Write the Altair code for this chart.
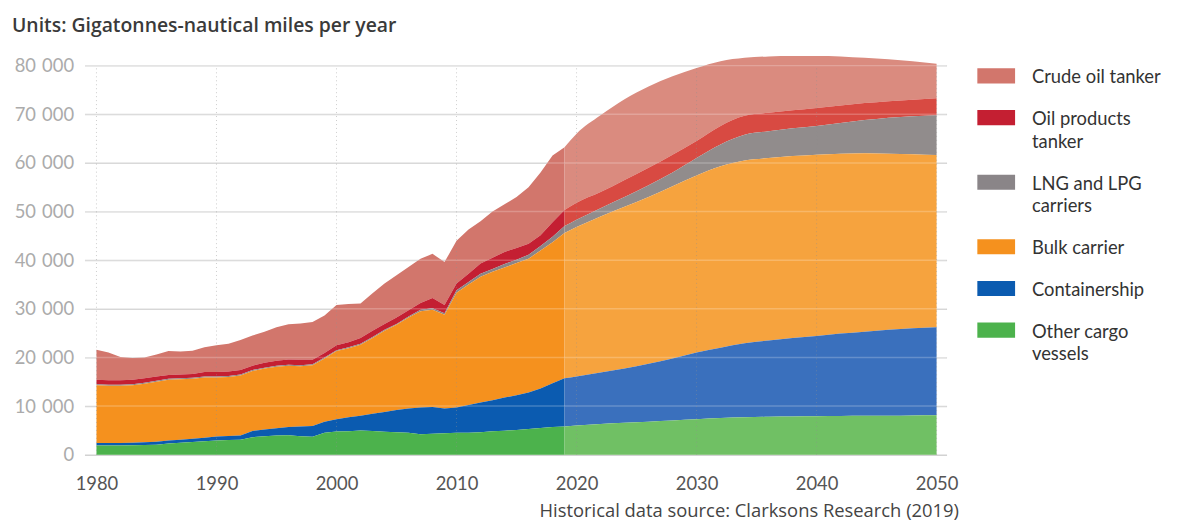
import altair as alt
import pandas as pd

categories = ["Crude oil tanker", "Oil products tanker", "LNG and LPG carriers",
              "Bulk carrier", "Containership", "Other cargo vessels"]
stack_rank = {"Other cargo vessels": 0, "Containership": 1, "Bulk carrier": 2,
              "LNG and LPG carriers": 3, "Oil products tanker": 4, "Crude oil tanker": 5}

# Historical data 1980-2019 (gigatonne-nautical miles per year)
hist_years = list(range(1980, 2020))
hist_other = [1900, 1900, 1900, 1950, 2000, 2050, 2300, 2450, 2600, 2750,
              2900, 3000, 3100, 3600, 3800, 3950, 4000, 3800, 3700, 4500,
              4750, 4800, 5000, 4900, 4700, 4600, 4500, 4200, 4300, 4400,
              4500, 4500, 4600, 4800, 4950, 5100, 5300, 5500, 5700, 5800]
hist_container = [500, 500, 500, 500, 550, 600, 600, 650, 700, 750,
                  850, 850, 850, 1300, 1400, 1500, 1700, 2000, 2200, 2300,
                  2550, 2900, 3000, 3500, 4100, 4600, 5000, 5500, 5500, 5100,
                  5200, 5700, 6150, 6400, 6800, 7100, 7500, 8100, 9000, 9900]
hist_bulk = [11900, 11800, 11800, 11850, 12050, 12350, 12500, 12400, 12300, 12400,
             12150, 12150, 12350, 12300, 12500, 12650, 12600, 12400, 12500, 13000,
             14000, 14200, 14600, 15600, 16700, 17500, 18700, 19800, 20000, 19300,
             23600, 24800, 25850, 26400, 26750, 27200, 27500, 28400, 29000, 29900]
hist_lng = [200, 200, 200, 200, 200, 200, 200, 200, 200, 200,
            200, 200, 200, 200, 200, 200, 200, 200, 200, 200,
            200, 200, 200, 200, 200, 200, 200, 300, 300, 300,
            500, 500, 600, 600, 700, 700, 800, 900, 1100, 1400]
hist_oil = [900, 900, 900, 900, 900, 900, 800, 800, 800, 900,
            900, 900, 900, 900, 1000, 1000, 1100, 1100, 900, 900,
            1000, 1000, 1200, 1300, 1200, 1300, 1300, 1400, 2100, 1700,
            1400, 1700, 2100, 2300, 2500, 2400, 2300, 2200, 3000, 3300]
hist_crude = [6200, 5700, 4800, 4500, 4300, 4500, 4900, 4700, 4800, 5100,
              5500, 5700, 6200, 6200, 6400, 6900, 7200, 7500, 7800, 7700,
              8300, 7900, 7100, 7700, 8300, 8700, 8900, 9100, 9100, 8800,
              8800, 9100, 8700, 9500, 9800, 10500, 11600, 12900, 13700, 12900]

# Projection 2019-2050
proj_years = [2019, 2020, 2022, 2024, 2026, 2028, 2030, 2032, 2034, 2036,
              2038, 2040, 2042, 2044, 2046, 2048, 2050]
proj_other = [5800, 6000, 6300, 6550, 6800, 7050, 7300, 7550, 7700, 7800,
              7850, 7900, 7950, 8000, 8000, 8050, 8100]
proj_container = [9900, 10100, 10600, 11150, 11900, 12750, 13700, 14450, 15200, 15700,
                  16150, 16500, 16950, 17300, 17700, 17950, 18100]
proj_bulk = [29900, 30700, 32100, 33300, 34300, 35400, 36400, 37300, 37600, 37500,
             37400, 37300, 37000, 36700, 36200, 35800, 35400]
proj_lng = [1400, 1500, 1700, 2000, 2400, 2800, 3600, 4500, 5300, 5500,
            5700, 5900, 6300, 6800, 7400, 7800, 8200]
proj_oil = [3300, 3500, 3300, 3500, 3600, 3700, 3500, 3800, 3900, 3800,
            3700, 3700, 3600, 3500, 3400, 3400, 3500]
proj_crude = [12900, 14200, 15800, 16600, 16700, 16100, 15000, 13300, 11900, 11600,
              11200, 10700, 10100, 9300, 8600, 7900, 7100]

decades = [1980, 1990, 2000, 2010, 2020, 2030, 2040, 2050]
y_ticks = [0, 10000, 20000, 30000, 40000, 50000, 60000, 70000, 80000]

hist_colors = ["#d2766c", "#c41f32", "#8a8588", "#f5911e", "#0b5bb0", "#4cb24c"]
proj_colors = ["#da8b7f", "#d84a42", "#918c8c", "#f6a33e", "#3a70bd", "#70c064"]


def to_long(years, series):
    rows = []
    for cat, vals in zip(categories, series):
        for yr, v in zip(years, vals):
            rows.append({"year": yr, "type": cat, "value": v, "rank": stack_rank[cat]})
    return pd.DataFrame(rows)


hist_df = to_long(hist_years, [hist_crude, hist_oil, hist_lng, hist_bulk, hist_container, hist_other])
proj_df = to_long(proj_years, [proj_crude, proj_oil, proj_lng, proj_bulk, proj_container, proj_other])

FONT = "Lato"
WIDE = "Open Sans"
x_scale = alt.Scale(domain=[1979.0, 2050.83], nice=False, zero=False)
y_scale = alt.Scale(domain=[0, 82500], nice=False)

x_axis = alt.Axis(values=decades, format="d", grid=False, domain=False, ticks=False,
                  labelFont=FONT, labelFontSize=18.5, labelColor="#555555", labelPadding=20,
                  title="Historical data source: Clarksons Research (2019)",
                  titleX=880, titleY=62, titleAlign="right", titleBaseline="alphabetic",
                  titleFont=WIDE, titleFontSize=18.5, titleFontWeight="normal", titleColor="#444444")
y_axis = alt.Axis(values=y_ticks,
                  labelExpr="replace(format(datum.value, ','), ',', '\u2004')",
                  grid=True, gridColor="#d2d2d2", gridWidth=1.5, domain=False, ticks=False,
                  labelFont=FONT, labelFontSize=18.5, labelColor="#ababab", labelPadding=11,
                  title=None)

x_enc = alt.X("year:Q", scale=x_scale, axis=x_axis)
y_enc = alt.Y("value:Q", stack="zero", scale=y_scale, axis=y_axis)

label_expr = ("datum.label == 'Oil products tanker' ? ['Oil products', 'tanker'] : "
              "datum.label == 'LNG and LPG carriers' ? ['LNG and LPG', 'carriers'] : "
              "datum.label == 'Other cargo vessels' ? ['Other cargo', 'vessels'] : datum.label")

hist = alt.Chart(hist_df).mark_area(interpolate="linear").encode(
    x=x_enc, y=y_enc,
    color=alt.Color("type:N", scale=alt.Scale(domain=categories, range=hist_colors),
                    legend=alt.Legend(title=None, orient="none", legendX=899, legendY=-4, padding=0,
                                      symbolType="M-1,0L1,0L1,0.8L-1,0.8Z", symbolSize=1444,
                                      symbolStrokeWidth=0, symbolOpacity=1,
                                      labelFont=FONT, labelFontSize=18.5, labelColor="#333333",
                                      labelOffset=17, labelBaseline="top", rowPadding=4,
                                      labelLimit=250, labelExpr=label_expr)),
    order=alt.Order("rank:Q", sort="ascending"))

proj = alt.Chart(proj_df).mark_area(interpolate="monotone").encode(
    x=x_enc, y=y_enc,
    color=alt.Color("type:N", scale=alt.Scale(domain=categories, range=proj_colors), legend=None),
    order=alt.Order("rank:Q", sort="ascending"))

hgrid = alt.Chart(pd.DataFrame({"value": y_ticks[1:]})).mark_rule(
    color="white", opacity=0.22, strokeWidth=1.5).encode(
    y=alt.Y("value:Q", scale=y_scale, axis=y_axis))

vgrid = alt.Chart(pd.DataFrame({"year": decades, "lo": [0] * len(decades), "hi": [80000] * len(decades)})).mark_rule(
    color="#8f8f8f", opacity=0.45, strokeDash=[1, 3], strokeWidth=1).encode(
    x=alt.X("year:Q", scale=x_scale, axis=x_axis),
    y=alt.Y("lo:Q", scale=y_scale, axis=y_axis), y2="hi:Q")

chart = alt.layer(hist, proj, hgrid, vgrid).resolve_scale(color="independent").properties(
    width=868, height=404,
    autosize=alt.AutoSizeParams(type="none"),
    padding={"left": 77, "top": 44, "right": 227, "bottom": 69},
    title=alt.TitleParams(text="Units: Gigatonnes-nautical miles per year", anchor="start",
                          frame="group", dx=-73, dy=25, offset=19, baseline="bottom",
                          font=WIDE, fontSize=19.5, fontWeight=600, color="#3a3a3a"),
    background="white",
).configure(style={"guide-label": {"lineHeight": 23}}).configure_view(stroke=None)

chart.save("out.html", embed_options={"renderer": "svg", "actions": False})
